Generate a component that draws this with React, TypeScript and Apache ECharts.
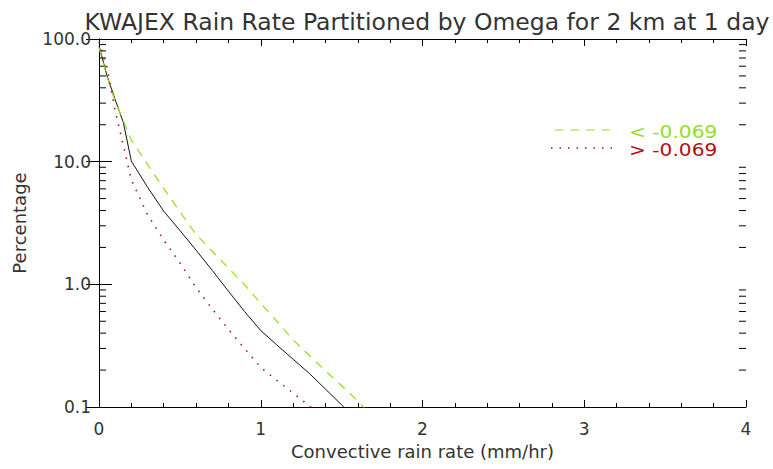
import React, { useEffect, useRef } from "react";
import * as echarts from "echarts";

const titleText = "KWAJEX Rain Rate Partitioned by Omega for 2 km at 1 day";
const xAxisName = "Convective rain rate (mm/hr)";
const yAxisName = "Percentage";

const allX = [0, 0.05, 0.1, 0.15, 0.2, 0.3, 0.4, 0.5, 0.6, 0.7, 0.8, 0.9, 1.0, 1.1, 1.2, 1.3, 1.4, 1.5, 1.6];
const allY = [88, 50, 32, 21, 10.1, 6.2, 3.95, 2.75, 1.9, 1.3, 0.88, 0.6, 0.42, 0.32, 0.245, 0.188, 0.14, 0.104, 0.077];

const lowX = [0, 0.05, 0.1, 0.15, 0.2, 0.3, 0.4, 0.5, 0.6, 0.7, 0.8, 0.9, 1.0, 1.1, 1.2, 1.3, 1.4, 1.5, 1.6, 1.7];
const lowY = [85, 49, 31, 21.6, 15.0, 9.5, 6.05, 3.92, 2.55, 1.86, 1.36, 0.99, 0.7, 0.5, 0.352, 0.264, 0.197, 0.149, 0.112, 0.08];

const highX = [0, 0.05, 0.1, 0.15, 0.2, 0.3, 0.4, 0.5, 0.6, 0.7, 0.8, 0.9, 1.0, 1.1, 1.2, 1.3, 1.4];
const highY = [95, 58, 26, 13.7, 7.1, 3.7, 2.3, 1.5, 0.94, 0.63, 0.43, 0.3, 0.21, 0.165, 0.13, 0.102, 0.08];

const lowLabel = "< -0.069";
const highLabel = "> -0.069";

const yTickValues = [0.1, 1, 10, 100];
const yMinorTicks = [0.2, 0.3, 0.4, 0.5, 0.6, 0.7, 0.8, 0.9, 2, 3, 4, 5, 6, 7, 8, 9, 20, 30, 40, 50, 60, 70, 80, 90];

const GREEN = "#92e01c";
const RED = "#b01010";
const FONT = "DejaVu Sans";
const TEXT = "#333";

function pairs(xs: number[], ys: number[]) {
  return xs.map((x, i) => [x, ys[i]]);
}

export default function App() {
  const ref = useRef<HTMLDivElement>(null);
  useEffect(() => {
    document.body.style.margin = "0";
    if (!ref.current) return;
    const chart = echarts.init(ref.current, undefined, { renderer: "svg" });
    const axisLine = { show: true, lineStyle: { color: "#000", width: 1 } };
    const option: any = {
      animation: false,
      backgroundColor: "#fff",
      title: {
        text: titleText,
        left: 422,
        top: 5,
        textAlign: "center",
        textStyle: { fontFamily: FONT, fontSize: 23.5, fontWeight: "normal", color: TEXT },
      },
      grid: { left: 99, top: 39, width: 647, height: 368 },
      xAxis: [
        {
          type: "value",
          min: 0,
          max: 4,
          interval: 1,
          position: "bottom",
          axisLine,
          axisTick: { show: true, inside: true, length: 7, lineStyle: { color: "#000" } },
          minorTick: { show: true, splitNumber: 5, length: 4, lineStyle: { color: "#000" } },
          splitLine: { show: false },
          axisLabel: { margin: 13, fontFamily: FONT, fontSize: 17, color: TEXT },
          name: xAxisName,
          nameLocation: "middle",
          nameGap: 35,
          nameTextStyle: { fontFamily: FONT, fontSize: 18, color: TEXT },
        },
        {
          type: "value",
          min: 0,
          max: 4,
          interval: 1,
          position: "top",
          axisLine,
          axisTick: { show: true, inside: true, length: 7, lineStyle: { color: "#000" } },
          minorTick: { show: true, splitNumber: 5, length: 4, lineStyle: { color: "#000" } },
          splitLine: { show: false },
          axisLabel: { show: false },
        },
      ],
      yAxis: [
        {
          type: "log",
          logBase: 10,
          min: 0.1,
          max: 100,
          position: "left",
          axisLine,
          axisTick: { show: true, inside: true, length: 13, lineStyle: { color: "#000" } },
          splitLine: { show: false },
          axisLabel: {
            margin: 8,
            fontFamily: FONT,
            fontSize: 17,
            color: TEXT,
            formatter: (v: number) => {
              const m = yTickValues.find((t) => Math.abs(t - v) / t < 1e-6);
              return (m ?? v).toFixed(1);
            },
          },
          name: yAxisName,
          nameLocation: "middle",
          nameGap: 71,
          nameTextStyle: { fontFamily: FONT, fontSize: 18, color: TEXT },
        },
        {
          type: "log",
          logBase: 10,
          min: 0.1,
          max: 100,
          position: "right",
          axisLine,
          axisTick: { show: true, inside: true, length: 13, lineStyle: { color: "#000" } },
          splitLine: { show: false },
          axisLabel: { show: false },
        },
      ],
      series: [
        {
          name: "all",
          type: "line",
          data: pairs(allX, allY),
          showSymbol: false,
          symbol: "none",
          lineStyle: { color: "#111", width: 1 },
          clip: true,
        },
        {
          name: lowLabel,
          type: "line",
          data: pairs(lowX, lowY),
          showSymbol: false,
          symbol: "none",
          lineStyle: { color: GREEN, width: 1.2, type: [8.5, 7] },
          clip: true,
        },
        {
          name: highLabel,
          type: "line",
          data: pairs(highX, highY),
          showSymbol: false,
          symbol: "none",
          lineStyle: { color: RED, width: 1.6, type: [1.5, 7] },
          clip: true,
        },
        {
          type: "custom",
          silent: true,
          clip: false,
          data: yMinorTicks.map((v) => [0, v]),
          encode: { x: 0, y: 1 },
          renderItem: (params: any, api: any) => {
            const v = api.value(1);
            const l = api.coord([0, v]);
            const r = api.coord([4, v]);
            return {
              type: "group",
              children: [
                { type: "line", shape: { x1: l[0], y1: l[1], x2: l[0] + 7, y2: l[1] }, style: { stroke: "#000", lineWidth: 1 } },
                { type: "line", shape: { x1: r[0] - 7, y1: r[1], x2: r[0], y2: r[1] }, style: { stroke: "#000", lineWidth: 1 } },
              ],
            };
          },
        },
      ],
      graphic: [
        { type: "line", shape: { x1: 555, y1: 130, x2: 612, y2: 130 }, style: { stroke: GREEN, lineWidth: 1.2, lineDash: [8.5, 7] } },
        { type: "text", x: 629, y: 131.5, scaleX: 1.12, style: { text: lowLabel, fill: GREEN, font: `18px "${FONT}"`, verticalAlign: "middle" } },
        { type: "line", shape: { x1: 551, y1: 148, x2: 613, y2: 148 }, style: { stroke: RED, lineWidth: 1.6, lineDash: [1.5, 7] } },
        { type: "text", x: 629, y: 149.5, scaleX: 1.12, style: { text: highLabel, fill: RED, font: `18px "${FONT}"`, verticalAlign: "middle" } },
      ],
    };
    chart.setOption(option);
    return () => chart.dispose();
  }, []);
  return <div ref={ref} style={{ width: 773, height: 469 }} />;
}
